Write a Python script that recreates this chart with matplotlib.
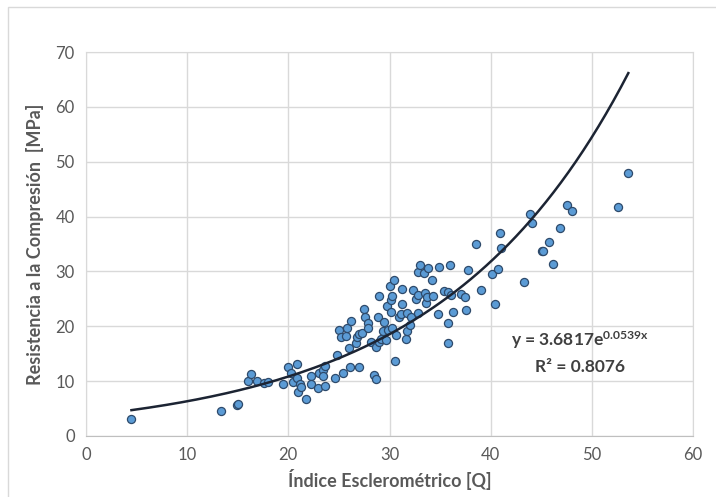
import numpy as np
import matplotlib.pyplot as plt
from matplotlib.patches import Rectangle

# Datos
indice_q = [4.5, 13.3, 14.9, 15.0, 16.0, 16.3, 16.9, 17.6, 18.0, 19.5,
            20.0, 20.3, 20.5, 20.9, 20.9, 21.0, 21.2, 21.3, 21.7, 22.2,
            22.2, 22.9, 23.0, 23.4, 23.4, 23.6, 23.6, 24.6, 24.8, 25.0,
            25.2, 25.4, 25.7, 25.8, 26.0, 26.2, 26.1, 26.7, 26.8, 27.0,
            27.0, 27.3, 27.5, 27.6, 27.9, 27.9, 28.2, 28.5, 28.7, 28.7,
            28.9, 29.0, 29.0, 29.2, 29.4, 29.5, 29.7, 29.8, 29.9, 30.0,
            30.1, 30.1, 30.2, 30.2, 30.4, 30.5, 30.6, 30.9, 31.1, 31.2,
            31.2, 31.6, 31.7, 31.7, 32.0, 32.1, 32.3, 32.6, 32.8, 32.8,
            32.8, 33.0, 33.4, 33.5, 33.6, 33.7, 33.8, 34.2, 34.3, 34.8,
            34.9, 35.4, 35.8, 35.8, 35.8, 36.0, 36.1, 36.3, 37.1, 37.5,
            37.6, 37.8, 38.5, 39.0, 40.1, 40.4, 40.7, 40.9, 41.0, 43.3,
            43.9, 44.1, 45.1, 45.2, 45.8, 46.2, 46.8, 47.5, 48.0, 52.6,
            53.6]
resistencia = [3.0, 4.6, 5.7, 5.8, 10.0, 11.3, 10.0, 9.6, 9.8, 9.5,
               12.6, 11.4, 9.8, 13.1, 10.6, 8.0, 9.5, 9.0, 6.7, 10.9,
               9.4, 8.7, 11.5, 12.0, 11.0, 12.8, 9.1, 10.6, 14.8, 19.4,
               18.1, 11.5, 18.2, 19.6, 16.0, 20.9, 12.5, 16.9, 18.1, 18.5,
               12.6, 18.7, 23.1, 21.6, 20.6, 19.6, 17.1, 11.1, 10.3, 16.3,
               21.7, 25.6, 17.2, 17.7, 19.1, 20.8, 17.4, 23.7, 19.3, 27.3,
               22.6, 24.8, 25.6, 19.6, 28.5, 13.7, 18.4, 21.7, 22.2, 26.8,
               24.0, 17.6, 22.5, 19.1, 20.2, 21.6, 26.6, 24.9, 22.5, 25.7,
               29.9, 31.1, 29.8, 26.0, 24.2, 25.4, 30.7, 28.5, 25.6, 22.2,
               30.8, 26.5, 20.6, 16.9, 26.2, 31.1, 25.7, 22.6, 25.9, 25.4,
               23.0, 30.2, 35.0, 26.6, 29.5, 24.0, 30.5, 37.1, 34.3, 28.0,
               40.4, 38.9, 33.7, 33.8, 35.4, 31.3, 38.0, 42.1, 41.0, 41.8,
               48.0]

# Tendencia exponencial
a, b = 3.6817, 0.0539
x_tend = np.linspace(min(indice_q), max(indice_q), 200)
y_tend = a * np.exp(b * x_tend)

plt.rcParams['font.family'] = ['Lato', 'DejaVu Sans']

fig = plt.figure(figsize=(7.16, 4.97), dpi=100)
ax = fig.add_axes([0.12, 0.123, 0.848, 0.772])

# borde del area del grafico
fig.patches.append(Rectangle((8 / 716, -0.1), 1.2, 1.1 - 7 / 497,
                             transform=fig.transFigure, fill=False,
                             edgecolor='#D9D9D9', linewidth=1))

ax.scatter(indice_q, resistencia, s=34, color='#5B9BD5',
           edgecolors='#2E4A6B', linewidths=0.9, zorder=3)
ax.plot(x_tend, y_tend, color='#1C2433', linewidth=1.8, zorder=4)

ax.set_xlim(0, 60)
ax.set_ylim(0, 70)
ax.set_xticks(range(0, 61, 10))
ax.set_yticks(range(0, 71, 10))
ax.grid(True, color='#D9D9D9', linewidth=1)
ax.set_axisbelow(True)
for s in ['top', 'right', 'left']:
    ax.spines[s].set_color('#D9D9D9')
ax.spines['bottom'].set_color('#BFBFBF')
ax.tick_params(length=0, labelsize=12, labelcolor='#595959', pad=8)

ax.set_xlabel('Índice Esclerométrico [Q]', fontsize=13, fontweight='bold',
              color='#595959', labelpad=4)
ax.set_ylabel('Resistencia a la Compresión  [MPa]', fontsize=13,
              fontweight='bold', color='#595959', labelpad=8)

ax.text(48.8, 17.4, 'y = 3.6817e$\\mathregular{^{0.0539x}}$', ha='center',
        va='center', fontsize=12.5, fontweight='bold', color='#404040')
ax.text(48.8, 12.6, 'R² = 0.8076', ha='center', va='center',
        fontsize=12.5, fontweight='bold', color='#404040')

fig.savefig('out.png', dpi=100)
